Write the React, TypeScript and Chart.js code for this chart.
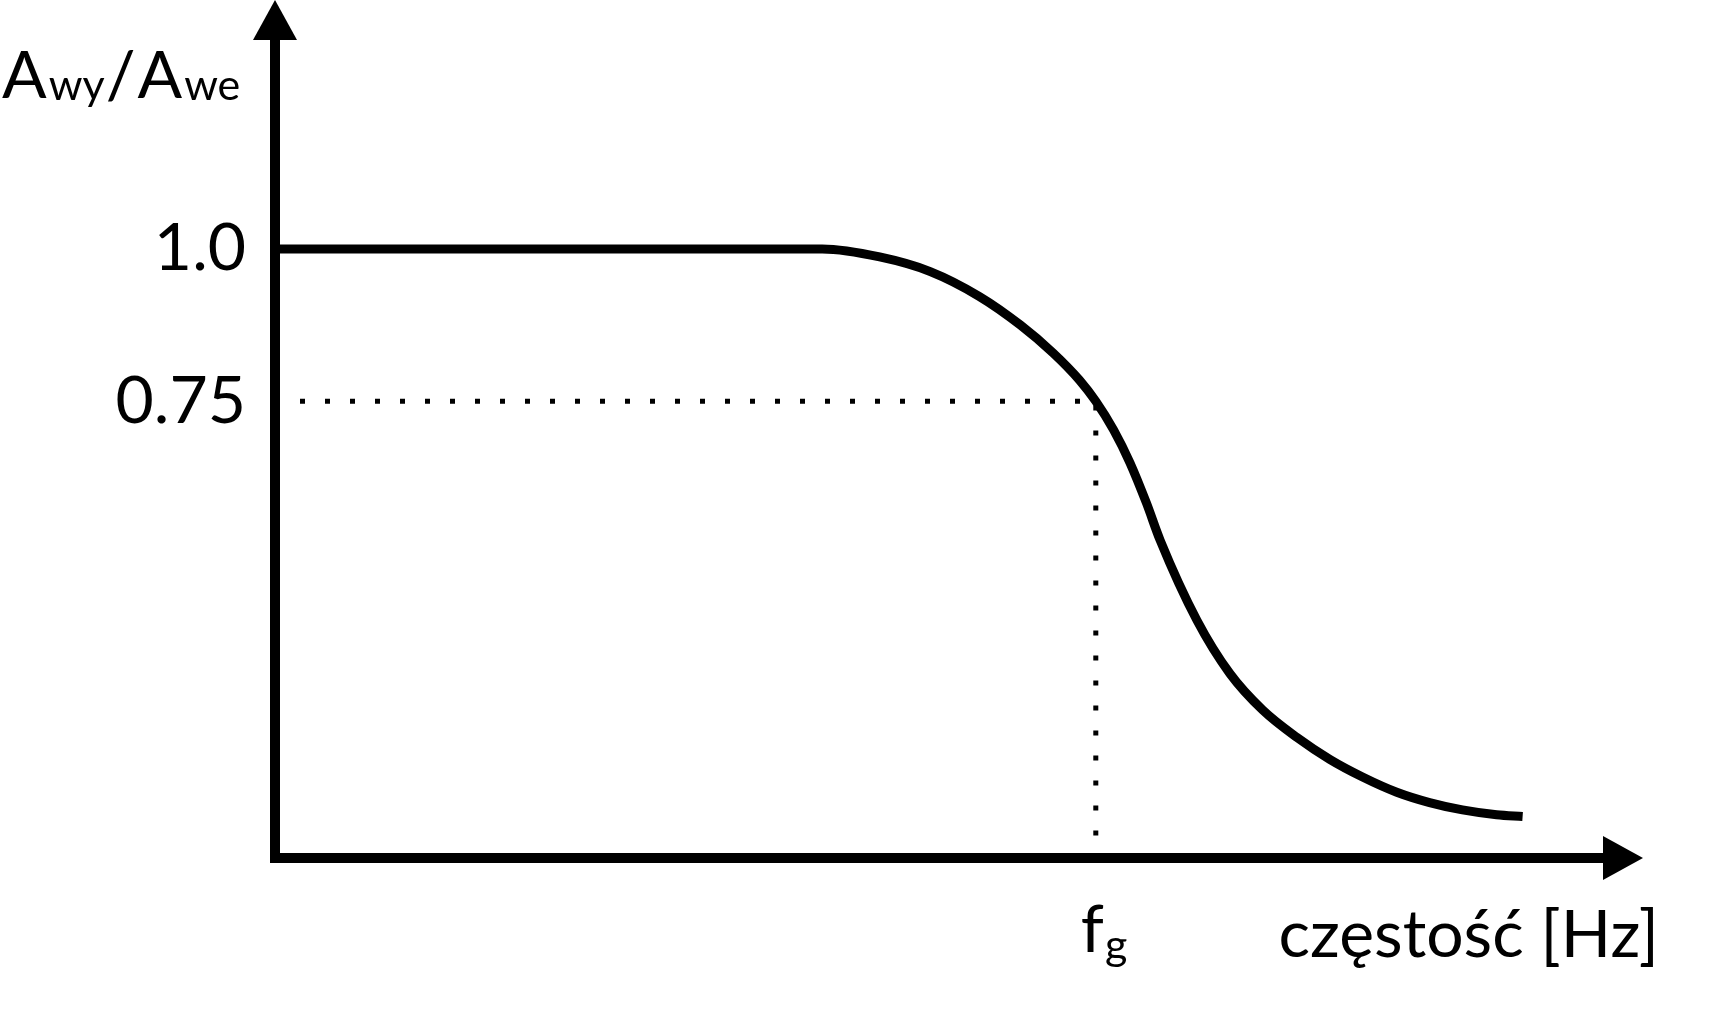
import React, { useEffect, useRef } from "react";
import { Chart, registerables } from "chart.js";

Chart.register(...registerables);

// ---- data ----
const FREQ = [0, 40, 44.2, 47.9, 51.5, 54.5, 56.9, 58.8, 60, 61.3, 62.5, 63.7, 64.7, 67.4, 69.8, 72.2, 74.7, 77.1, 79.5, 82, 84.4, 86.8, 89.3, 91.2];
const GAIN = [1.0, 1.0, 0.987, 0.963, 0.922, 0.875, 0.829, 0.785, 0.75, 0.703, 0.649, 0.583, 0.522, 0.39, 0.303, 0.243, 0.198, 0.162, 0.133, 0.108, 0.091, 0.079, 0.071, 0.068];

const FG = 60; // cut-off frequency f_g
const GUIDE_X = [0, FG, FG];
const GUIDE_Y = [0.75, 0.75, 0.02];

const Y_TICK_VALUES = [0.75, 1.0];
const Y_TICK_LABELS = ["0.75", "1.0"];

const X_MIN = 0;
const X_MAX = 100;
const Y_MIN = 0;
const Y_MAX = 1.409;

const Y_TITLE_PARTS: [string, boolean][] = [
  ["A", false],
  ["wy", true],
  ["/", false],
  ["A", false],
  ["we", true],
];
const X_TITLE = "częstość [Hz]";
const FG_MAIN = "f";
const FG_SUB = "g";

const FONT = "Lato";
const MAIN_SIZE = 66;
const SUB_SIZE = 43;
const TICK_SIZE = 66;

const overlayPlugin = {
  id: "axesAndLabels",
  afterDatasetsDraw(chart: any) {
    const { ctx, chartArea, scales } = chart;
    const x0 = scales.x.getPixelForValue(X_MIN);
    const y0 = scales.y.getPixelForValue(Y_MIN);
    const top = chartArea.top;
    const right = chartArea.right;
    const lw = 10;
    const arrowLen = 40;
    const arrowHalf = 22;
    ctx.save();
    ctx.fillStyle = "#000";
    // y axis line
    ctx.fillRect(x0 - lw / 2, top + arrowLen - 2, lw, y0 + lw / 2 - (top + arrowLen - 2));
    // x axis line
    ctx.fillRect(x0 - lw / 2, y0 - lw / 2, right - arrowLen + 2 - (x0 - lw / 2), lw);
    // y arrow
    ctx.beginPath();
    ctx.moveTo(x0, top);
    ctx.lineTo(x0 - arrowHalf, top + arrowLen);
    ctx.lineTo(x0 + arrowHalf, top + arrowLen);
    ctx.closePath();
    ctx.fill();
    // x arrow
    ctx.beginPath();
    ctx.moveTo(right, y0);
    ctx.lineTo(right - arrowLen, y0 - arrowHalf);
    ctx.lineTo(right - arrowLen, y0 + arrowHalf);
    ctx.closePath();
    ctx.fill();

    // text
    ctx.textAlign = "left";
    ctx.textBaseline = "alphabetic";
    const mainFont = `${MAIN_SIZE}px ${FONT}`;
    const subFont = `${SUB_SIZE}px ${FONT}`;

    // y title
    let tx = 2;
    const yBase = top + 98;
    for (const [t, isSub] of Y_TITLE_PARTS) {
      ctx.font = isSub ? subFont : mainFont;
      ctx.fillText(t, tx, isSub ? yBase + 2 : yBase);
      tx += ctx.measureText(t).width + (isSub ? 1 : 2);
    }

    // f_g
    const fgPx = scales.x.getPixelForValue(FG);
    ctx.font = mainFont;
    const fx = fgPx - 15;
    ctx.fillText(FG_MAIN, fx, y0 + 94);
    const fw = ctx.measureText(FG_MAIN).width;
    ctx.font = subFont;
    ctx.fillText(FG_SUB, fx + fw + 1, y0 + 102);

    // x title
    ctx.font = mainFont;
    ctx.textAlign = "right";
    ctx.fillText(X_TITLE, right + 16, y0 + 99);
    ctx.restore();
  },
};

export default function App() {
  const ref = useRef<HTMLCanvasElement | null>(null);
  useEffect(() => {
    if (!ref.current) return;
    const curve = FREQ.map((x, i) => ({ x, y: GAIN[i] }));
    const guide = GUIDE_X.map((x, i) => ({ x, y: GUIDE_Y[i] }));
    const chart = new Chart(ref.current, {
      type: "line",
      data: {
        datasets: [
          {
            data: guide,
            borderColor: "#000",
            borderWidth: 5,
            borderDash: [5, 20],
            borderCapStyle: "butt",
            pointRadius: 0,
            tension: 0,
            fill: false,
          },
          {
            data: curve,
            borderColor: "#000",
            borderWidth: 9,
            borderCapStyle: "butt",
            borderJoinStyle: "round",
            pointRadius: 0,
            cubicInterpolationMode: "monotone",
            fill: false,
          },
        ],
      },
      options: {
        responsive: false,
        animation: false,
        events: [],
        layout: { padding: { top: 0, right: 92, bottom: 151, left: 0 } },
        plugins: { legend: { display: false }, tooltip: { enabled: false }, title: { display: false } },
        scales: {
          x: {
            type: "linear",
            min: X_MIN,
            max: X_MAX,
            display: false,
          },
          y: {
            type: "linear",
            min: Y_MIN,
            max: Y_MAX,
            grid: { display: false, drawTicks: false },
            border: { display: false },
            ticks: {
              padding: 29,
              color: "#000",
              font: { family: FONT, size: TICK_SIZE },
              callback: (v: any) => {
                const i = Y_TICK_VALUES.indexOf(Number(v));
                return i >= 0 ? Y_TICK_LABELS[i] : "";
              },
            },
            afterBuildTicks: (scale: any) => {
              scale.ticks = Y_TICK_VALUES.map((value) => ({ value }));
            },
            afterFit: (scale: any) => {
              scale.width = 275;
              scale.paddingTop = 0;
              scale.paddingBottom = 0;
            },
          },
        },
      },
      plugins: [overlayPlugin],
    } as any);
    return () => chart.destroy();
  }, []);
  return (
    <div style={{ position: "absolute", left: 0, top: 0, width: 1735, height: 1009, background: "#fff" }}>
      <canvas ref={ref} width={1735} height={1009} style={{ display: "block", width: 1735, height: 1009 }} />
    </div>
  );
}
